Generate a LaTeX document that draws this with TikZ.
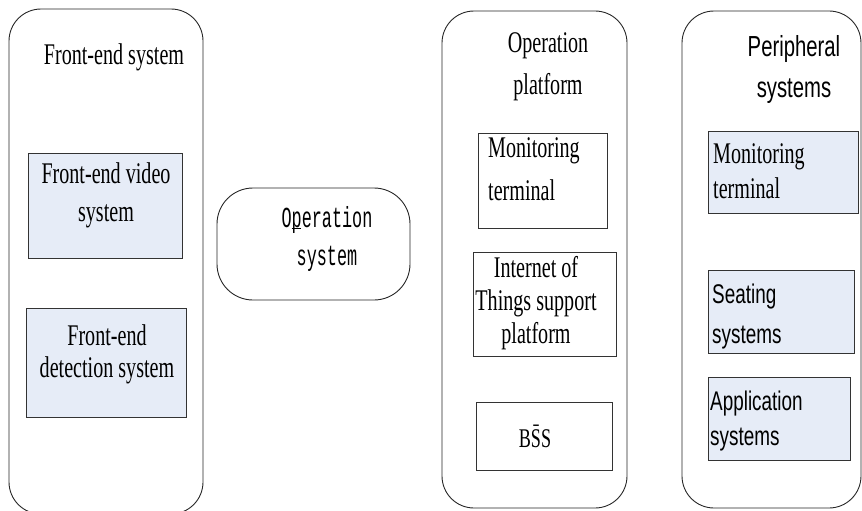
\documentclass[tikz,border=0pt]{standalone}
\usepackage{fontspec}
\newfontfamily\serfont[FakeStretch=0.67]{Liberation Serif}
\newfontfamily\sanfont[FakeStretch=0.70]{Liberation Sans}
\newfontfamily\monfont[FakeStretch=0.58]{Liberation Mono}
\definecolor{boxfill}{HTML}{E6ECF7}
\begin{document}
\begin{tikzpicture}[x=1pt,y=-1pt,
  group/.style={draw=black!85, line width=0.9pt, rounded corners=32pt, rectangle, inner sep=0pt},
  sub/.style={draw=black!80, line width=0.8pt, rectangle, inner sep=0pt},
  subfill/.style={sub, fill=boxfill},
  ser/.style={font=\serfont\fontsize{30}{#1}\selectfont, inner sep=0pt, anchor=base},
  san/.style={font=\sanfont\fontsize{27}{#1}\selectfont, inner sep=0pt, anchor=base},
  mon/.style={font=\monfont\fontsize{29}{#1}\selectfont, inner sep=0pt, anchor=base}
]
\clip (0,0) rectangle (862,511);
\useasboundingbox (0,0) rectangle (862,511);

% outer groups
\node[group, minimum width=194, minimum height=505] (front) at (106,261.5) {};
\node[group, minimum width=193, minimum height=112, rounded corners=36pt] (opsys) at (313.5,244) {};
\node[group, minimum width=185, minimum height=497] (platform) at (534.5,259.5) {};
\node[group, minimum width=179, minimum height=497] (periph) at (771.5,259.5) {};

% inner boxes
\node[subfill, minimum width=154, minimum height=105] (fvideo) at (105,205.5) {};
\node[subfill, minimum width=160, minimum height=109] (fdet) at (106,362.5) {};
\node[sub, minimum width=129, minimum height=95] (monterm) at (542.5,180.5) {};
\node[sub, minimum width=143, minimum height=104] (iot) at (544.5,304) {};
\node[sub, minimum width=136, minimum height=68] (bss) at (544,436) {};
\node[subfill, minimum width=150, minimum height=82] (pmon) at (783,172) {};
\node[subfill, minimum width=146, minimum height=83] (seat) at (781,311.5) {};
\node[subfill, minimum width=142, minimum height=83] (app) at (779,418.5) {};

% texts (base anchor = baseline of last line)
\node[ser=33, align=center] (tfront) at (114,65) {Front-end system};
\node[ser=38, align=center] (tfvideo) at (106,221) {Front-end video\\system};
\node[ser=32, align=center] (tfdet) at (107,377) {Front-end\\detection system};
\node[mon=38, align=center] (topsys) at (327,265) {O\makebox[0pt][l]{\rule[-1.5pt]{9pt}{0.9pt}}peration\\system};
\node[ser=43, align=center] (tplat) at (548,95) {Operation\\platform};
\node[ser=43, align=left, anchor=base west] (tmonterm) at (488,200) {Monitoring\\terminal};
\node[ser=33, align=center] (tiot) at (536,343) {Internet of\\Things support\\platform};
\node[font=\serfont\fontsize{27}{30}\selectfont, inner sep=0pt, anchor=base] (tbss) at (535,447) {B\=SS};
\node[font=\sanfont\fontsize{29}{40}\selectfont, inner sep=0pt, anchor=base, align=center] (tperiph) at (794,97) {Peripheral\\systems};
\node[ser=35, align=left, anchor=base west] (tpmon) at (713,198) {Monitoring\\terminal};
\node[san=40, align=left, anchor=base west] (tseat) at (712,343) {Seating\\systems};
\node[san=35, align=left, anchor=base west] (tapp) at (710,445) {Application\\systems};
\end{tikzpicture}
\end{document}
